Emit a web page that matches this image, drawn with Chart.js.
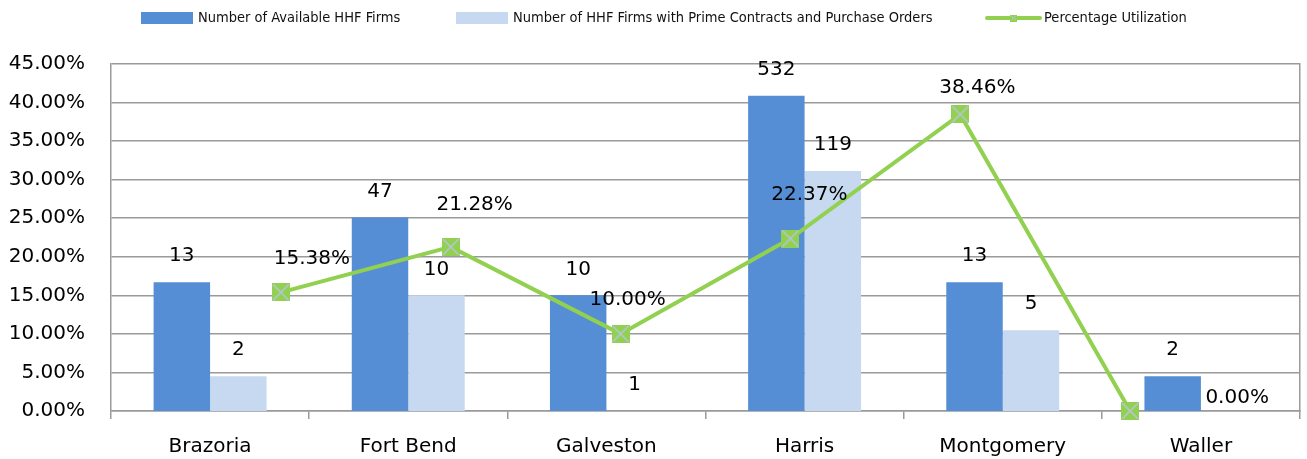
<!DOCTYPE html>
<html>
<head>
<meta charset="utf-8">
<script src="https://cdn.jsdelivr.net/npm/chart.js@4.4.1/dist/chart.umd.min.js"></script>
<style>
  html, body { margin: 0; padding: 0; background: #fff; }
  #wrap { position: relative; width: 1307px; height: 459px; }
  #wrap canvas { position: absolute; left: 0; top: 0; }
</style>
</head>
<body>
<div id="wrap">
  <canvas id="bars" width="1307" height="459"></canvas>
  <canvas id="line" width="1307" height="459"></canvas>
</div>
<script>
// --- data ---
const COUNTIES = ["Brazoria", "Fort Bend", "Galveston", "Harris", "Montgomery", "Waller"];
const SERIES_NAMES = [
  "Number of Available HHF Firms",
  "Number of HHF Firms with Prime Contracts and Purchase Orders",
  "Percentage Utilization"
];
const AVAILABLE = [13, 47, 10, 532, 13, 2];
const WITH_CONTRACTS = [2, 10, 1, 119, 5, null];
const UTILIZATION = [15.38, 21.28, 10.00, 22.37, 38.46, 0.00];
const PCT_TICKS = [0, 5, 10, 15, 20, 25, 30, 35, 40, 45];

// --- style ---
const BLUE = "#558ed5";
const LIGHT = "#c6d9f1";
const GREEN = "#92d050";
const GRID = "#9a9a9a";
const FONT = "DejaVu Sans";
const LEGEND_FONT = '14.5px "DejaVu Sans Condensed", "DejaVu Sans", sans-serif';
const LEGEND_SLOTS = [141, 456, 985];   // left edge of each legend entry
// plot area of the original (shared by both canvases)
const AREA = { top: 64, left: 111, right: 7, bottom: 48 };
// where each percentage label sits relative to its point (hand-placed in the original)
const LINE_LABEL_SHIFT = [[31, -34], [24, -42], [7, -34], [19, -44], [17, -27], [107, -13]];

// green square with a pale X, like the Excel marker
function makeMarker(size) {
  const c = document.createElement("canvas");
  c.width = size; c.height = size;
  const g = c.getContext("2d");
  g.fillStyle = GREEN;
  g.fillRect(0, 0, size, size);
  g.strokeStyle = "#b7c6dc";
  g.lineWidth = size > 10 ? 1.6 : 1;
  g.beginPath();
  g.moveTo(1, 1); g.lineTo(size - 1, size - 1);
  g.moveTo(size - 1, 1); g.lineTo(1, size - 1);
  g.stroke();
  return c;
}
const MARKER = makeMarker(18);
const MARKER_SMALL = makeMarker(7);

/* ---------- value labels ---------- */
const valueLabels = {
  id: "valueLabels",
  afterDatasetsDraw(chart) {
    const ctx = chart.ctx;
    ctx.save();
    ctx.font = "20px '" + FONT + "'";
    ctx.fillStyle = "#000";
    ctx.textAlign = "center";
    ctx.textBaseline = "middle";
    chart.data.datasets.forEach((ds, di) => {
      chart.getDatasetMeta(di).data.forEach((el, i) => {
        if (ds.type === "line") {
          const [dx, dy] = LINE_LABEL_SHIFT[i];
          ctx.fillText(UTILIZATION[i].toFixed(2) + "%", el.x + dx, el.y + dy);
        } else {
          const v = ds.data[i];
          if (v == null) return;
          ctx.fillText(String(v), el.x, el.y - 26);
        }
      });
    });
    ctx.restore();
  }
};

/* ---------- legend across the top ---------- */
const LEGEND_ITEMS = [
  { label: SERIES_NAMES[0], kind: "box", color: BLUE },
  { label: SERIES_NAMES[1], kind: "box", color: LIGHT },
  { label: SERIES_NAMES[2], kind: "line", color: GREEN }
];
const topLegend = {
  id: "topLegend",
  afterDraw(chart) {
    const ctx = chart.ctx;
    ctx.save();
    ctx.font = LEGEND_FONT;
    ctx.textBaseline = "middle";
    ctx.textAlign = "left";
    const y = 18;
    LEGEND_ITEMS.forEach((it, k) => {
      const x = LEGEND_SLOTS[k];
      if (it.kind === "line") {
        ctx.strokeStyle = it.color;
        ctx.lineWidth = 4;
        ctx.lineCap = "round";
        ctx.beginPath();
        ctx.moveTo(x + 2, y); ctx.lineTo(x + 55, y);
        ctx.stroke();
        ctx.drawImage(MARKER_SMALL, x + 28.5 - 3.5, y - 3.5);
      } else {
        ctx.fillStyle = it.color;
        ctx.fillRect(x, y - 6, 52, 12);
      }
      ctx.fillStyle = "#111";
      ctx.fillText(it.label, x + (it.kind === "line" ? 59 : 57), y);
    });
    ctx.restore();
  }
};

/* ---------- bars + axes ---------- */
new Chart(document.getElementById("bars"), {
  type: "bar",
  data: {
    labels: COUNTIES,
    datasets: [
      { label: SERIES_NAMES[0], data: AVAILABLE, backgroundColor: BLUE, yAxisID: "y2" },
      { label: SERIES_NAMES[1], data: WITH_CONTRACTS, backgroundColor: LIGHT, yAxisID: "y2" }
    ]
  },
  options: {
    responsive: false,
    animation: false,
    devicePixelRatio: 1,
    layout: { autoPadding: false, padding: { top: AREA.top, left: 9, right: AREA.right, bottom: 0 } },
    datasets: { bar: { categoryPercentage: 0.57, barPercentage: 1 } },
    plugins: { legend: { display: false }, tooltip: { enabled: false } },
    scales: {
      x: {
        type: "category", position: "bottom", offset: true,
        afterFit: s => { s.height = AREA.bottom; },
        grid: { offset: true, drawOnChartArea: false, tickLength: 8, color: GRID, lineWidth: 1.5 },
        border: { color: GRID, width: 1.5 },
        ticks: { font: { family: FONT, size: 20 }, color: "#000", padding: 16 }
      },
      y: {
        position: "left", min: 0, max: 45,
        afterFit: s => { s.width = AREA.left - 9; },
        afterBuildTicks: s => { s.ticks = PCT_TICKS.map(v => ({ value: v })); },
        ticks: { font: { family: FONT, size: 20 }, color: "#000", padding: 26,
                 callback: v => Number(v).toFixed(2) + "%" },
        grid: { color: GRID, lineWidth: 1.5, drawTicks: false },
        border: { color: GRID, width: 1.5 }
      },
      // hidden log axis the bar heights follow (1 … 1000)
      y2: {
        type: "logarithmic", position: "right", min: 1, max: 1000,
        afterFit: s => { s.width = 0; },
        ticks: { display: false },
        grid: { drawOnChartArea: false, drawTicks: false },
        border: { color: GRID, width: 1.5 }
      }
    }
  },
  plugins: [valueLabels, topLegend]
});

/* ---------- percentage line, on its own transparent canvas ---------- */
new Chart(document.getElementById("line"), {
  type: "line",
  data: {
    datasets: [
      { type: "line", label: SERIES_NAMES[2],
        data: UTILIZATION.map((v, i) => ({ x: i, y: v })),
        borderColor: GREEN, backgroundColor: GREEN, borderWidth: 4, tension: 0,
        pointStyle: MARKER, pointRadius: 9, clip: false }
    ]
  },
  options: {
    responsive: false,
    animation: false,
    devicePixelRatio: 1,
    layout: { autoPadding: false, padding: AREA },
    plugins: { legend: { display: false }, tooltip: { enabled: false } },
    scales: {
      // secondary category positions: points sit one step in from each side of a 7-step axis
      x: { type: "linear", display: false, min: -1, max: 6, offset: false, bounds: "data" },
      y: { type: "linear", display: false, min: 0, max: 45 }
    }
  },
  plugins: [valueLabels]
});
</script>
</body>
</html>
